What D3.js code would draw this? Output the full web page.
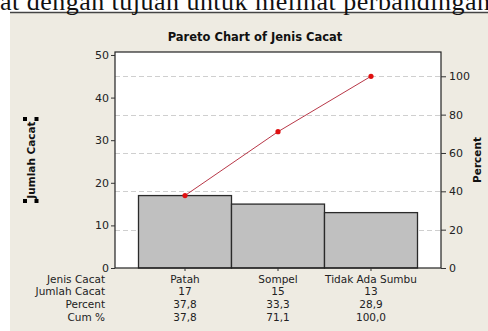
<!DOCTYPE html>
<html><head><meta charset="utf-8">
<script src="https://cdn.jsdelivr.net/npm/d3@7"></script>
<style>
html,body{margin:0;padding:0;background:#fff;}
svg{display:block;}
</style></head>
<body>
<svg id="c" width="488" height="331"></svg>
<script>
const categories = ["Patah", "Sompel", "Tidak Ada Sumbu"];
const counts = [17, 15, 13];
const percents = ["37,8", "33,3", "28,9"];
const cumPercents = [37.8, 71.1, 100.0];
const cumLabels = ["37,8", "71,1", "100,0"];
const leftTicks = [0, 10, 20, 30, 40, 50];
const rightTicks = [0, 20, 40, 60, 80, 100];
const rowLabels = ["Jenis Cacat", "Jumlah Cacat", "Percent", "Cum %"];

const svg = d3.select("#c");
const F = "Tahoma, 'DejaVu Sans', sans-serif";

// page background pieces
svg.append("rect").attr("x",10).attr("y",13).attr("width",478).attr("height",318).attr("fill","#eeebe2");
svg.append("line").attr("x1",10).attr("x2",488).attr("y1",12.5).attr("y2",12.5).attr("stroke","#444").attr("stroke-width",1.6);
svg.append("text").attr("x",0).attr("y",10).attr("font-family","'Liberation Serif', 'Times New Roman', serif")
  .attr("font-size",26).attr("fill","#111").attr("textLength",490).attr("lengthAdjust","spacing")
  .text("at dengan tujuan untuk melihat perbandingan");

const L = 115, R = 441, T = 52, B = 268;
const total = d3.sum(counts);
const yL = d3.scaleLinear().domain([0, 50.7]).range([B, T]);
const yR = d3.scaleLinear().domain([0, 100 * 50.7 / total]).range([B, T]);
const x = d3.scaleBand().domain(categories).range([L, R]).paddingInner(0).paddingOuter(0.2527);

svg.append("rect").attr("x",L).attr("y",T).attr("width",R-L).attr("height",B-T).attr("fill","#fff");

// gridlines at right axis ticks
svg.append("g").selectAll("line").data(rightTicks.filter(d=>d>0)).join("line")
  .attr("x1",L).attr("x2",R).attr("y1",d=>Math.round(yR(d))+0.5).attr("y2",d=>Math.round(yR(d))+0.5)
  .attr("stroke","#cfcfcf").attr("stroke-dasharray","5,3").attr("stroke-width",1);

// bars
svg.append("g").selectAll("rect").data(categories).join("rect")
  .attr("x",d=>x(d)).attr("width",x.bandwidth())
  .attr("y",(d,i)=>yL(counts[i])).attr("height",(d,i)=>B-yL(counts[i]))
  .attr("fill","#c0c0c0").attr("stroke","#2a2a2a").attr("stroke-width",1.3);

// cumulative line
const line = d3.line().x((d,i)=>x(categories[i])+x.bandwidth()/2).y(d=>yR(d));
svg.append("path").datum(cumPercents).attr("d",line).attr("fill","none").attr("stroke","#b83848").attr("stroke-width",1);
svg.append("g").selectAll("circle").data(cumPercents).join("circle")
  .attr("cx",(d,i)=>x(categories[i])+x.bandwidth()/2).attr("cy",d=>yR(d)).attr("r",2.6).attr("fill","#e01010");

// frame
svg.append("rect").attr("x",L).attr("y",T).attr("width",R-L).attr("height",B-T).attr("fill","none").attr("stroke","#222").attr("stroke-width",1.2);

// axes
const axL = d3.axisLeft(yL).tickValues(leftTicks).tickSize(4).tickPadding(2);
const gL = svg.append("g").attr("transform",`translate(${L},0)`).call(axL);
const axR = d3.axisRight(yR).tickValues(rightTicks).tickSize(5).tickPadding(3);
const gR = svg.append("g").attr("transform",`translate(${R},0)`).call(axR);
const axB = d3.axisBottom(x).tickSize(3).tickFormat("");
const gB = svg.append("g").attr("transform",`translate(0,${B})`).call(axB);
[gL,gR,gB].forEach(g=>{
  g.select(".domain").remove();
  g.selectAll("line").attr("stroke","#333");
  g.selectAll("text").attr("font-family",F).attr("font-size",11).attr("fill","#222");
});

// title
svg.append("text").attr("x",255).attr("y",41).attr("text-anchor","middle")
  .attr("font-family",F).attr("font-weight","bold").attr("font-size",11.5).attr("fill","#111")
  .text("Pareto Chart of Jenis Cacat");

// y labels
svg.append("text").attr("transform","translate(35,160) rotate(-90)").attr("text-anchor","middle")
  .attr("font-family",F).attr("font-weight","bold").attr("font-size",10.5).attr("fill","#111").text("Jumlah Cacat");
[[25,119],[36.5,119],[25,201],[36.5,201]].forEach(p=>{
  svg.append("rect").attr("x",p[0]-2).attr("y",p[1]-2).attr("width",4).attr("height",4).attr("fill","#000");
});
svg.append("text").attr("transform","translate(481,160) rotate(-90)").attr("text-anchor","middle")
  .attr("font-family",F).attr("font-weight","bold").attr("font-size",10.5).attr("fill","#111").text("Percent");

// table
const rowsY = [283, 295, 308, 321];
const tbl = svg.append("g").attr("font-family",F).attr("font-size",10.5).attr("fill","#222");
rowLabels.forEach((lab,r)=>{
  tbl.append("text").attr("x",105).attr("y",rowsY[r]).attr("text-anchor","end").text(lab);
});
const rows = [categories, counts.map(String), percents, cumLabels];
rows.forEach((vals,r)=>{
  tbl.selectAll(null).data(vals).join("text")
    .attr("x",(d,i)=>x(categories[i])+x.bandwidth()/2).attr("y",rowsY[r]).attr("text-anchor","middle").text(d=>d);
});
</script>
</body></html>
